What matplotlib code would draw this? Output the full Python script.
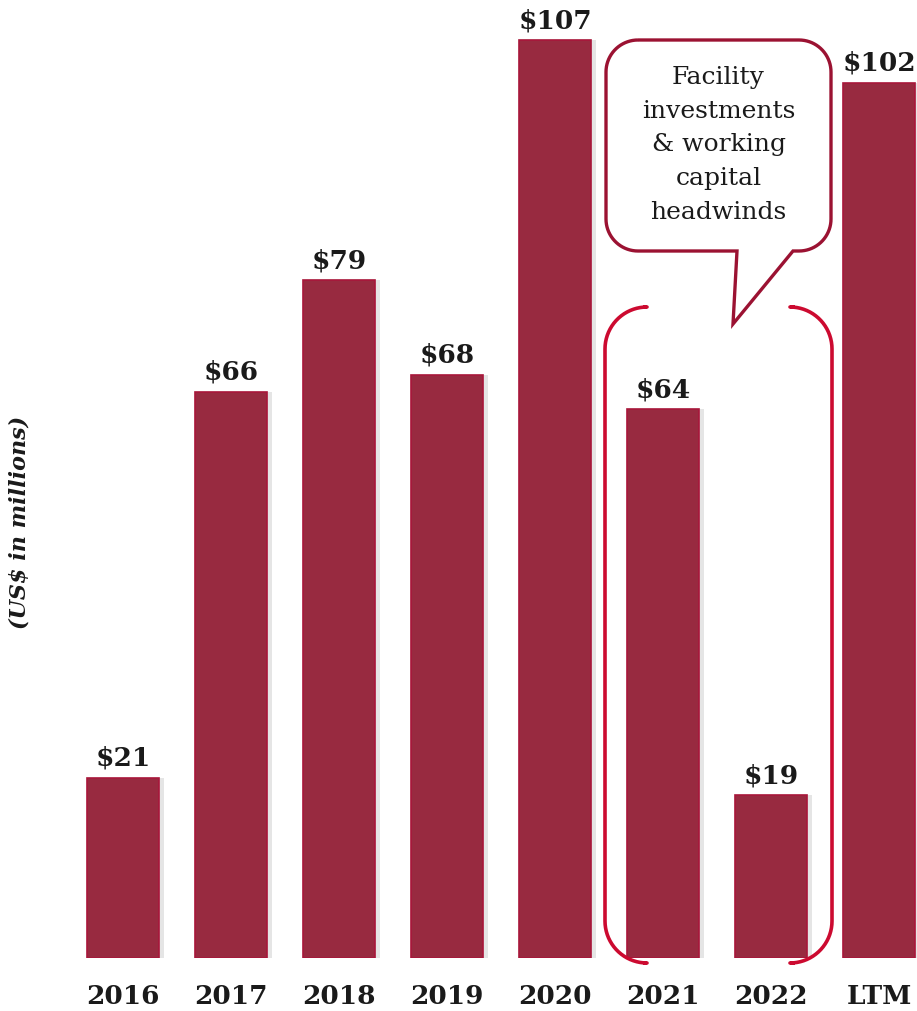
import numpy as np
import matplotlib
matplotlib.use("Agg")
import matplotlib.pyplot as plt
from matplotlib.path import Path
from matplotlib.patches import PathPatch

categories = ["2016", "2017", "2018", "2019", "2020", "2021", "2022", "LTM"]
values = [21, 66, 79, 68, 107, 64, 19, 102]
value_labels = ["$21", "$66", "$79", "$68", "$107", "$64", "$19", "$102"]
callout_text = "Facility\ninvestments\n& working\ncapital\nheadwinds"
ylabel_text = "(US$ in millions)"

BAR_COLOR = "#982A40"
BAR_EDGE = "#A8163A"
CALLOUT_EDGE = "#9B1232"
BRACKET_COLOR = "#CC0A30"
SERIF = ["DejaVu Serif"]

W, H = 917, 1011
fig = plt.figure(figsize=(W / 100, H / 100), dpi=100)

# main bar axes: bottom at the baseline, scale so 107 sits near the top
base_px = 958
ax = fig.add_axes([0, (H - base_px) / H, 1, base_px / H])
x = np.arange(len(categories))
ax.set_xlim(-123 / 108, (W - 123) / 108)
ax.set_ylim(0, base_px / 8.58)

# soft shadow to the right of each bar
ax.bar(x + 0.045, values, width=0.667, color="#000000", alpha=0.10, zorder=1)
ax.bar(x, values, width=0.667, color=BAR_COLOR, edgecolor=BAR_EDGE,
       linewidth=1.2, zorder=2)

for xi, v, lab in zip(x, values, value_labels):
    ax.text(xi, v + 0.8, lab, ha="center", va="bottom", fontsize=19,
            fontweight="bold", family=SERIF, color="#1a1a1a")

ax.set_xticks(x)
ax.set_xticklabels(categories, fontsize=19, fontweight="bold", family=SERIF,
                   color="#1a1a1a")
ax.tick_params(axis="x", length=0, pad=19)
ax.set_yticks([])
for s in ax.spines.values():
    s.set_visible(False)
ax.patch.set_alpha(0)

# overlay axes in pixel units for the callout and bracket
ov = fig.add_axes([0, 0, 1, 1])
ov.set_xlim(0, W)
ov.set_ylim(H, 0)
ov.axis("off")
ov.patch.set_alpha(0)


def arc(cx, cy, r, a0, a1, n=20):
    t = np.radians(np.linspace(a0, a1, n))
    return np.column_stack([cx + r * np.cos(t), cy + r * np.sin(t)])


# callout box (y grows downward in the overlay)
L, T, R, B, r = 606, 40, 831, 251, 32
pts = [
    [[L + r, T], [R - r, T]],
    arc(R - r, T + r, r, -90, 0),
    [[R, B - r]],
    arc(R - r, B - r, r, 0, 90),
    [[793, B], [733, 324], [737, B]],
    arc(L + r, B - r, r, 90, 180),
    [[L, T + r]],
    arc(L + r, T + r, r, 180, 270),
]
verts = np.vstack([np.asarray(p, dtype=float) for p in pts])
ov.add_patch(PathPatch(Path(np.vstack([verts, verts[:1]])), facecolor="white",
                       edgecolor=CALLOUT_EDGE, linewidth=2.4, zorder=3))
ov.text((L + R) / 2, 145, callout_text, ha="center", va="center", fontsize=18,
        family=SERIF, color="#1a1a1a", linespacing=1.6, zorder=4)

# bracket around 2021 / 2022
bL, bT, bR, bB, br = 605, 307, 832, 963, 42
left = np.vstack([
    [[643, bT]],
    arc(bL + br, bT + br, br, 270, 180),
    arc(bL + br, bB - br, br, 180, 90),
    [[643, bB]],
])
right = np.vstack([
    [[795, bT]],
    arc(bR - br, bT + br, br, -90, 0),
    arc(bR - br, bB - br, br, 0, 90),
    [[795, bB]],
])
for seg in (left, right):
    ov.plot(seg[:, 0], seg[:, 1], color=BRACKET_COLOR, linewidth=2.6,
            solid_capstyle="butt", zorder=3)

fig.text(20 / W, 1 - 522 / H, ylabel_text, rotation=90, ha="center",
         va="center", fontsize=16, fontweight="bold", fontstyle="italic",
         family=SERIF, color="#1a1a1a")

fig.savefig("out.png", dpi=100)
